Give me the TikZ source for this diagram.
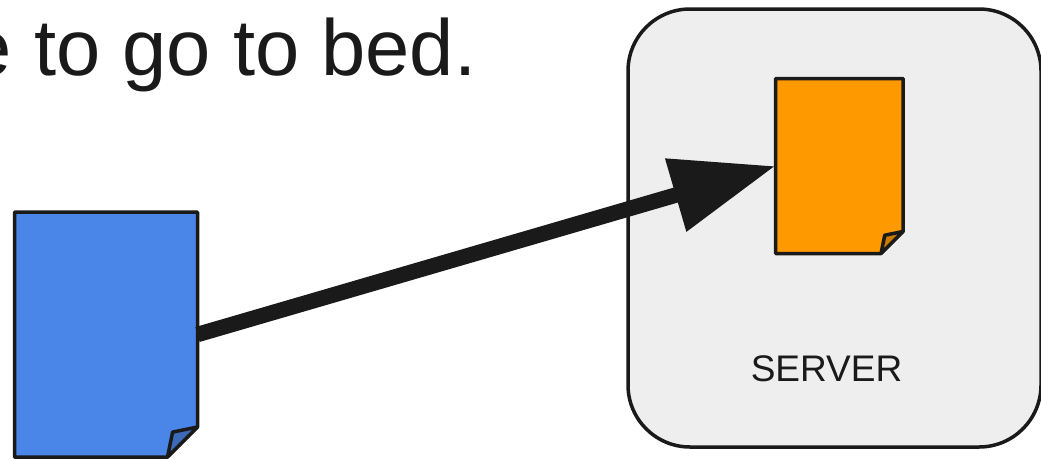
\documentclass[tikz,border=0pt]{standalone}
\usepackage{fontspec}
\setmainfont{Liberation Sans}
\usepackage{xcolor}
\usetikzlibrary{arrows.meta,calc}
\definecolor{inkblack}{HTML}{1A1A1A}
\definecolor{serverbg}{HTML}{EEEEEE}
\definecolor{pageblue}{HTML}{4A86E8}
\definecolor{foldblue}{HTML}{3C6BBA}
\definecolor{pageorange}{HTML}{FF9900}
\definecolor{foldorange}{HTML}{CC7A00}
\newcommand{\foldedpage}[4]{%
    \draw[pageline, fill=#2] (#1.north west) -- (#1.north east) -- ($(#1.south east)+(0,-#4)$) -- ($(#1.south east)+(-#4,0)$) -- (#1.south west) -- cycle;
    \draw[pageline, fill=#3] ($(#1.south east)+(0,-#4)$) -- ($(#1.south east)+(-0.83*#4,-0.83*#4)$) -- ($(#1.south east)+(-#4,0)$) -- cycle;
}
\begin{document}
\begin{tikzpicture}[x=1pt, y=-1pt, every node/.style={text=inkblack, inner sep=0pt, outer sep=0pt},
    pageline/.style={draw=inkblack, line width=3.5pt, line join=round},
    pagenode/.style={minimum width=#1, anchor=north west}]
    \useasboundingbox (0,0) rectangle (1041,458);

    \node[draw=inkblack, fill=serverbg, line width=3.5pt, rounded corners=62pt, minimum width=413pt, minimum height=438pt] (server) at (834.5,228) {};
    \node[anchor=base] (serverlabel) at (826.5,381) {\fontsize{37}{41}\selectfont SERVER};
    \node[anchor=base west] (caption) at (-32,75) {\fontsize{79.5}{88}\selectfont e to go to bed.};

    \node[pagenode=183pt, minimum height=245pt] (bluepage) at (14.5,212) {};
    \node[pagenode=127.5pt, minimum height=175pt] (orangepage) at (775.5,78.5) {};
    \foldedpage{bluepage}{pageblue}{foldblue}{30}
    \foldedpage{orangepage}{pageorange}{foldorange}{22}

    \draw[-{Triangle[length=104pt, width=72pt]}, draw=inkblack, fill=inkblack, line width=15.5pt] (bluepage.east) -- (orangepage.west);
\end{tikzpicture}
\end{document}
